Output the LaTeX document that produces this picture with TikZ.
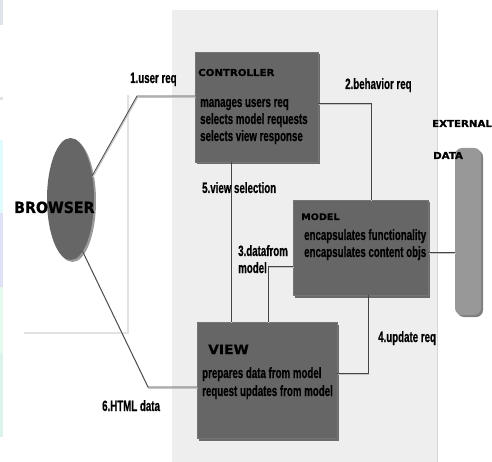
\documentclass[tikz,border=0pt]{standalone}
\usepackage{fontspec}
\setmainfont{Liberation Sans}
\newfontfamily\condfont[FakeStretch=0.65,FakeBold=0.6]{Liberation Sans}
\newfontfamily\techfont[FakeStretch=1.07,FakeBold=0.8]{DejaVu Sans}
\newfontfamily\techfontB[FakeStretch=0.92,FakeBold=0.8]{DejaVu Sans}
\usetikzlibrary{shapes.geometric,shadows}
\definecolor{panelc}{HTML}{EEEEEE}
\definecolor{boxc}{HTML}{666666}
\definecolor{extc}{HTML}{989898}
\definecolor{linec}{HTML}{454545}
\definecolor{shadec}{HTML}{C4C4C4}
\definecolor{winc}{HTML}{E2E2E2}
\definecolor{stripa}{HTML}{DFE3EA}
\definecolor{stripb}{HTML}{E0FBFB}
\definecolor{stripc}{HTML}{DFE2F6}
\definecolor{stripd}{HTML}{E4FAEC}
\definecolor{stripe}{HTML}{DCF3E9}
\tikzset{
  boxshadow/.style={drop shadow={shadow xshift=2bp,shadow yshift=-2.5bp,fill=black,opacity=0.55}},
  darkbox/.style={rectangle,fill=boxc,draw=boxc!90!white,line width=0.4bp,inner sep=0,outer sep=0,boxshadow},
  extbox/.style={rectangle,rounded corners=7bp,fill=extc,inner sep=0,outer sep=0,drop shadow={shadow xshift=2bp,shadow yshift=-2bp,fill=black,opacity=0.5}},
  browserbox/.style={ellipse,fill=boxc,inner sep=0,outer sep=0,drop shadow={shadow xshift=2bp,shadow yshift=-2bp,fill=black,opacity=0.4}},
  conn/.style={draw=linec,line width=0.8bp,preaction={draw=shadec,line width=1.2bp,transform canvas={xshift=0.6bp,yshift=-1.3bp}}},
  bodytext/.style={anchor=base west,inner sep=0,font=\condfont\bfseries\fontsize{15}{16}\selectfont},
  lbltext/.style={anchor=base west,inner sep=0,font=\condfont\bfseries\fontsize{15}{16}\selectfont},
  titletext/.style={anchor=base west,inner sep=0,font=\techfont\bfseries\fontsize{#1}{#1}\selectfont},
}
\begin{document}
\begin{tikzpicture}[x=1bp,y=-1bp]
\useasboundingbox (0,0) rectangle (492,462);
\fill[white] (0,0) rectangle (492,462);
% left edge strips
\fill[stripa] (0,0) rectangle (3,25);
\fill[winc] (0,97) rectangle (3,100);
\fill[stripb] (0,140) rectangle (3,213);
\fill[stripc] (0,213) rectangle (3,287);
\fill[stripd] (0,287) rectangle (3,353);
\fill[stripe] (0,353) rectangle (3,437);
% window edge (white rectangle shadow)
\draw[winc,line width=1.6bp] (128,95) -- (128,333) -- (24,333);
% panel
\fill[panelc] (172,10) rectangle (437,462);
\draw[shadec!70!white,line width=1bp] (437,10) -- (437,462);
% boxes
\node[darkbox,minimum width=123bp,minimum height=110bp] (ctrl) at (256.5,107) {};
\node[darkbox,minimum width=135bp,minimum height=95bp] (model) at (360.5,247.5) {};
\node[darkbox,minimum width=140bp,minimum height=116bp] (view) at (267,380) {};
\node[extbox,minimum width=26bp,minimum height=167bp] (ext) at (468,231.5) {};
\node[browserbox,minimum width=47bp,minimum height=122bp] (brow) at (70.5,199) {};
% bend coordinates
\coordinate (b1) at (137,96);
\coordinate (b2) at (371,103);
\coordinate (b3) at (268,266);
\coordinate (b4) at (368,373);
\coordinate (b5) at (231,0);
\coordinate (b6) at (148,387);
\coordinate (b7) at (0,252);
% connectors
\draw[conn] (brow.47) -- (b1) -- (b1 -| ctrl.west);
\draw[conn] (b2 -| ctrl.east) -- (b2) -- (b2 |- model.north);
\draw[conn] (b5 |- ctrl.south) -- (b5 |- view.north);
\draw[conn] (b3 -| model.west) -- (b3) -- (b3 |- view.north);
\draw[conn] (b4 |- model.south) -- (b4) -- (b4 -| view.east);
\draw[conn] (brow.-77) -- (b6) -- (b6 -| view.west);
\draw[conn] (b7 -| model.east) -- (b7 -| ext.west);
% box texts
\node[titletext=9.6] (ctrlT) at (198,76) {CONTROLLER};
\node[bodytext] (ctrlA) at (200,107) {manages users req};
\node[bodytext] (ctrlB) at (200,124) {selects model requests};
\node[bodytext] (ctrlC) at (200,141) {selects view response};
\node[titletext=9] (modelT) at (301,220) {MODEL};
\node[bodytext] (modelA) at (304,240) {encapsulates functionality};
\node[bodytext] (modelB) at (304,257) {encapsulates content objs};
\node[titletext=13] (viewT) at (208,354) {VIEW};
\node[bodytext] (viewA) at (202,378) {prepares data from model};
\node[bodytext] (viewB) at (202,396) {request updates from model};
\node[anchor=base west,inner sep=0,font=\techfontB\bfseries\fontsize{15.5}{16}\selectfont] (browT) at (14,213) {BROWSER};
\node[titletext=9.6] (extT) at (432,127) {EXTERNAL};
\node[titletext=9.6] (extU) at (433,159) {DATA};
% connector labels
\node[lbltext] (l1) at (130,83) {1.user req};
\node[lbltext] (l2) at (345,89) {2.behavior req};
\node[lbltext] (l5) at (202,193) {5.view selection};
\node[lbltext] (l3) at (238,256) {3.datafrom};
\node[lbltext] (l3b) at (238,273) {model};
\node[lbltext] (l4) at (378,342) {4.update req};
\node[lbltext] (l6) at (102,411) {6.HTML data};
\end{tikzpicture}
\end{document}
